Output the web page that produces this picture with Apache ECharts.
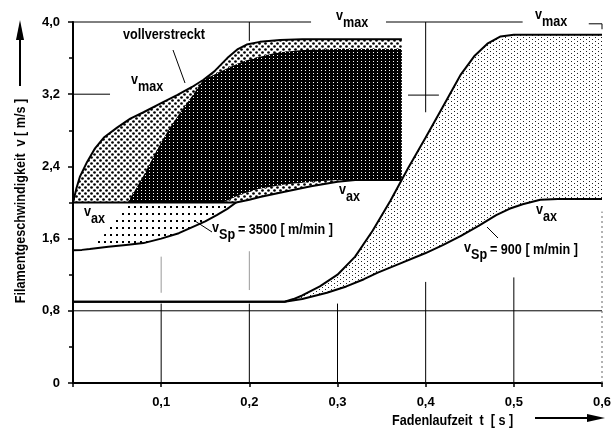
<!DOCTYPE html>
<html>
<head>
<meta charset="utf-8">
<script src="https://cdn.jsdelivr.net/npm/echarts@6/dist/echarts.min.js"></script>
<style>html,body{margin:0;background:#fff}#main{width:615px;height:429px}</style>
</head>
<body>
<div id="main"></div>
<script>
const FONT = "'Liberation Sans', Arial, sans-serif";

// axes: t [s] and v [m/s]
const xTickLabels = ['', '0,1', '0,2', '0,3', '0,4', '0,5', '0,6'];
const yTickLabels = ['0', '0,8', '1,6', '2,4', '3,2', '4,0'];

// v_Sp = 3500 m/min
const vMax3500 = [[0, 2.0], [0.004, 2.16], [0.008, 2.29], [0.016, 2.45], [0.025, 2.6], [0.035, 2.72],
  [0.05, 2.83], [0.065, 2.93], [0.08, 3.0], [0.1, 3.1], [0.118, 3.19], [0.135, 3.28], [0.148, 3.36],
  [0.16, 3.45], [0.175, 3.6], [0.187, 3.7], [0.197, 3.75], [0.212, 3.78], [0.235, 3.8], [0.26, 3.81],
  [0.373, 3.81]];
const vAx3500 = [[0, 2.0], [0.185, 2.0], [0.2, 2.03], [0.212, 2.06], [0.24, 2.12], [0.27, 2.18],
  [0.3, 2.23], [0.32, 2.25], [0.373, 2.25]];
const vSp3500 = [[0, 1.47], [0.01, 1.475], [0.019, 1.485], [0.04, 1.51], [0.06, 1.53], [0.08, 1.55],
  [0.1, 1.6], [0.12, 1.66], [0.136, 1.73], [0.15, 1.79], [0.163, 1.86], [0.175, 1.93], [0.185, 2.0]];
// "vollverstreckt" region
const vollEdge = [[0.019, 1.485], [0.027, 1.56], [0.034, 1.63], [0.045, 1.77], [0.055, 1.89],
  [0.062, 2.0], [0.07, 2.13], [0.08, 2.3], [0.095, 2.58], [0.108, 2.8], [0.121, 2.99], [0.135, 3.18],
  [0.148, 3.36]];
const vollTop = [[0.148, 3.36], [0.165, 3.44], [0.18, 3.51], [0.195, 3.57], [0.21, 3.61],
  [0.23, 3.66], [0.26, 3.69], [0.3, 3.7], [0.373, 3.7]];
const vollBottom = [[0.062, 2.0], [0.17, 2.0], [0.19, 2.09], [0.21, 2.15], [0.24, 2.2],
  [0.27, 2.23], [0.3, 2.25], [0.373, 2.25]];

// v_Sp = 900 m/min
const vMax900 = [[0, 0.9], [0.24, 0.9], [0.25, 0.93], [0.26, 0.97], [0.28, 1.07], [0.3, 1.2],
  [0.32, 1.4], [0.34, 1.69], [0.36, 2.02], [0.38, 2.38], [0.4, 2.72], [0.42, 3.07], [0.44, 3.42],
  [0.455, 3.62], [0.47, 3.76], [0.485, 3.84], [0.5, 3.86], [0.6, 3.86]];
const vAx900 = [[0, 0.9], [0.24, 0.9], [0.26, 0.93], [0.288, 1.0], [0.31, 1.07], [0.33, 1.15],
  [0.345, 1.22], [0.37, 1.32], [0.4, 1.44], [0.42, 1.53], [0.44, 1.63], [0.46, 1.74], [0.48, 1.86],
  [0.495, 1.93], [0.51, 1.98], [0.53, 2.03], [0.55, 2.04], [0.6, 2.04]];

// broken grid lines of the original drawing [x1, y1, x2, y2]
const gridSolid = [[0, 4, 0.27, 4], [0.355, 4, 0.51, 4], [0.585, 3.98, 0.6, 3.98], [0.6, 3.98, 0.6, 3.92],
  [0.2, 4, 0.2, 3.79], [0.4, 4, 0.4, 3.0], [0.38, 3.19, 0.415, 3.19], [0, 3.2, 0.042, 3.2],
  [0, 0.8, 0.6, 0.8], [0.1, 0, 0.1, 0.88], [0.2, 0, 0.2, 0.88], [0.3, 0, 0.3, 0.88],
  [0.4, 0, 0.4, 1.12], [0.5, 0, 0.5, 1.17]];
const gridGray = [[0.1, 1.0, 0.1, 1.4], [0.2, 1.03, 0.2, 1.46]];
const gridDotted = [[0.6, 0, 0.6, 1.9]];

function pattern(w, h, bg, fg, dots, r) {
  const c = document.createElement('canvas');
  c.width = w; c.height = h;
  const g = c.getContext('2d');
  g.fillStyle = bg; g.fillRect(0, 0, w, h);
  g.fillStyle = fg;
  dots.forEach(d => {
    if (r) { g.beginPath(); g.arc(d[0], d[1], r, 0, Math.PI * 2); g.fill(); }
    else g.fillRect(d[0], d[1], d[2], d[3]);
  });
  return { image: c, repeat: 'repeat' };
}
const coarseDots = pattern(6, 6, '#fff', '#000', [[1.5, 1.5], [4.5, 4.5]], 1.35);
const darkHatch = pattern(4, 3, '#000', '#fff', [[1, 1, 1, 1]]);
const midDots = pattern(6, 7, '#fff', '#000', [[2, 3, 2, 2]]);
const fineDots = pattern(6, 4, '#fff', '#222', [[1, 1, 1, 1], [4, 3, 1, 1]]);

const rev = a => a.slice().reverse();
const from = (a, x0) => a.filter(p => p[0] >= x0);

function region(poly, fill, z) {
  return {
    type: 'custom', silent: true, z: z, data: poly,
    renderItem: (params, api) => params.dataIndex === 0 ? {
      type: 'polygon',
      shape: { points: poly.map(p => api.coord(p)) },
      style: { fill: fill }
    } : null
  };
}
function segments(segs, style) {
  return {
    type: 'custom', silent: true, z: 1, data: segs,
    renderItem: (params, api) => {
      const a = api.coord([api.value(0), api.value(1)]);
      const b = api.coord([api.value(2), api.value(3)]);
      return { type: 'line', shape: { x1: a[0], y1: a[1], x2: b[0], y2: b[1] }, style: style };
    }
  };
}
function curve(data) {
  return { type: 'line', data: data, symbol: 'none', silent: true, z: 10,
    lineStyle: { color: '#000', width: 2 } };
}

// condensed look: scale the text horizontally
const txt = (x, y, s, extra) => Object.assign({
  type: 'text', x: x, y: y, z: 100, silent: true, scaleX: 0.9,
  style: { text: s, font: 'bold 14px ' + FONT, fill: '#000', verticalAlign: 'top' }
}, extra || {});
// letter v with subscript
const vsub = (x, y, s) => [txt(x, y, 'v'), txt(x + 7, y + 7, s)];
const seg = (x1, y1, x2, y2, w) => ({ type: 'line', z: 100, silent: true,
  shape: { x1: x1, y1: y1, x2: x2, y2: y2 }, style: { stroke: '#000', lineWidth: w || 1 } });

const graphics = [].concat(
  txt(123, 28, 'vollverstreckt'),
  seg(173, 50, 185, 83),
  vsub(131, 73, 'max'),
  vsub(336, 9, 'max'),
  vsub(535, 8, 'max'),
  vsub(84, 205, 'ax'),
  vsub(339, 183, 'ax'),
  vsub(536, 203, 'ax'),
  vsub(212, 221, 'Sp'),
  txt(238, 223, '= 3500 [ m/min ]'),
  seg(195, 221, 212, 232),
  vsub(464, 241, 'Sp'),
  txt(490, 243, '= 900 [ m/min ]'),
  seg(487, 227, 498, 238),
  txt(21, 201, '', { rotation: Math.PI / 2, style: { text: 'Filamentgeschwindigkeit  v [ m/s ]',
      font: 'bold 14px ' + FONT, fill: '#000', align: 'center', verticalAlign: 'middle' } }),
  seg(20, 86, 20, 38, 2),
  { type: 'polygon', z: 100, silent: true, shape: { points: [[20, 20], [16, 40], [24, 40]] }, style: { fill: '#000' } },
  txt(392, 414, 'Fadenlaufzeit  t  [ s ]'),
  seg(535, 418, 590, 418, 2),
  { type: 'polygon', z: 100, silent: true, shape: { points: [[605, 418], [587, 414], [587, 422]] }, style: { fill: '#000' } }
);

const chart = echarts.init(document.getElementById('main'));
chart.setOption({
  animation: false,
  backgroundColor: '#fff',
  grid: { left: 73, right: 13, top: 22, bottom: 46 },
  xAxis: {
    type: 'value', min: 0, max: 0.6, interval: 0.1,
    axisLine: { lineStyle: { color: '#000', width: 2 } },
    axisTick: { length: 4, lineStyle: { color: '#000', width: 1.5 } },
    splitLine: { show: false },
    axisLabel: { margin: 13, color: '#000', fontWeight: 'bold', fontSize: 13, fontFamily: FONT,
      formatter: v => xTickLabels[Math.round(v * 10)] }
  },
  yAxis: {
    type: 'value', min: 0, max: 4, interval: 0.8,
    axisLine: { show: true, lineStyle: { color: '#000', width: 2 } },
    axisTick: { show: true, length: 5, lineStyle: { color: '#000', width: 1.5 } },
    minorTick: { show: true, splitNumber: 2, length: 4, lineStyle: { color: '#000', width: 1.5 } },
    splitLine: { show: false },
    axisLabel: { margin: 13, color: '#000', fontWeight: 'bold', fontSize: 13, fontFamily: FONT,
      formatter: v => yTickLabels[Math.round(v / 0.8)] }
  },
  graphic: graphics,
  series: [
    segments(gridSolid, { stroke: '#000', lineWidth: 1 }),
    segments(gridGray, { stroke: '#999', lineWidth: 1 }),
    segments(gridDotted, { stroke: '#666', lineWidth: 1, lineDash: [2, 3] }),
    region(vMax3500.concat(rev(vAx3500)), coarseDots, 3),
    region(vollEdge.filter(p => p[1] >= 2.0).concat(vollTop.slice(1), rev(vollBottom)), darkHatch, 4),
    region(vollEdge.filter(p => p[1] <= 2.0).concat(rev(vSp3500.filter(p => p[0] > 0.019))), midDots, 3),
    region(from(vMax900, 0.24).concat(rev(from(vAx900, 0.24))), fineDots, 3),
    curve(vMax3500),
    curve(vAx3500),
    curve(vSp3500),
    curve(vMax900),
    curve(vAx900)
  ]
});
</script>
</body>
</html>
